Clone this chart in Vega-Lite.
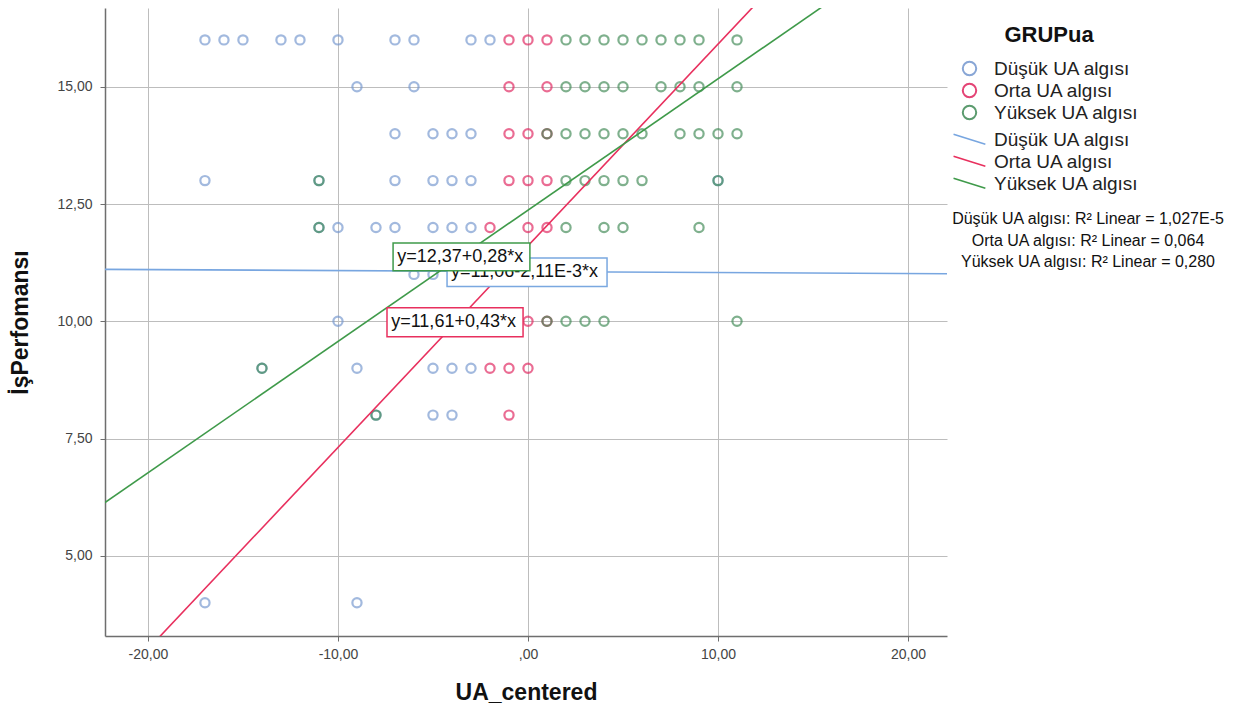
{
  "$schema": "https://vega.github.io/schema/vega-lite/v6.json",
  "width": 842,
  "height": 628,
  "autosize": {"type": "none"},
  "padding": {"left": 105, "top": 8, "right": 289, "bottom": 75},
  "background": "white",
  "config": {
    "font": "Liberation Sans",
    "view": {"stroke": null},
    "axis": {
      "gridColor": "#bdbdbd",
      "gridWidth": 1,
      "domainColor": "#6e6e6e",
      "domainWidth": 1.5,
      "tickColor": "#6e6e6e",
      "tickSize": 5,
      "labelFont": "Liberation Sans",
      "labelFontSize": 14,
      "labelColor": "#444444",
      "titleFont": "Liberation Sans",
      "titleFontSize": 23,
      "titleFontWeight": "bold",
      "titleColor": "#111111"
    }
  },
  "datasets": {
    "points": [
      {"x": -17, "y": 16, "group": "Düşük UA algısı"}, {"x": -16, "y": 16, "group": "Düşük UA algısı"}, {"x": -15, "y": 16, "group": "Düşük UA algısı"}, {"x": -13, "y": 16, "group": "Düşük UA algısı"}, {"x": -12, "y": 16, "group": "Düşük UA algısı"}, {"x": -10, "y": 16, "group": "Düşük UA algısı"}, {"x": -7, "y": 16, "group": "Düşük UA algısı"}, {"x": -6, "y": 16, "group": "Düşük UA algısı"}, {"x": -3, "y": 16, "group": "Düşük UA algısı"}, {"x": -2, "y": 16, "group": "Düşük UA algısı"},
      {"x": -1, "y": 16, "group": "Orta UA algısı"}, {"x": 0, "y": 16, "group": "Orta UA algısı"}, {"x": 1, "y": 16, "group": "Orta UA algısı"},
      {"x": 2, "y": 16, "group": "Yüksek UA algısı"}, {"x": 3, "y": 16, "group": "Yüksek UA algısı"}, {"x": 4, "y": 16, "group": "Yüksek UA algısı"}, {"x": 5, "y": 16, "group": "Yüksek UA algısı"}, {"x": 6, "y": 16, "group": "Yüksek UA algısı"}, {"x": 7, "y": 16, "group": "Yüksek UA algısı"}, {"x": 8, "y": 16, "group": "Yüksek UA algısı"}, {"x": 9, "y": 16, "group": "Yüksek UA algısı"}, {"x": 11, "y": 16, "group": "Yüksek UA algısı"},
      {"x": -9, "y": 15, "group": "Düşük UA algısı"}, {"x": -6, "y": 15, "group": "Düşük UA algısı"},
      {"x": -1, "y": 15, "group": "Orta UA algısı"}, {"x": 1, "y": 15, "group": "Orta UA algısı"},
      {"x": 2, "y": 15, "group": "Yüksek UA algısı"}, {"x": 3, "y": 15, "group": "Yüksek UA algısı"}, {"x": 4, "y": 15, "group": "Yüksek UA algısı"}, {"x": 5, "y": 15, "group": "Yüksek UA algısı"}, {"x": 7, "y": 15, "group": "Yüksek UA algısı"}, {"x": 8, "y": 15, "group": "Yüksek UA algısı"}, {"x": 9, "y": 15, "group": "Yüksek UA algısı"}, {"x": 11, "y": 15, "group": "Yüksek UA algısı"},
      {"x": -7, "y": 14, "group": "Düşük UA algısı"}, {"x": -5, "y": 14, "group": "Düşük UA algısı"}, {"x": -4, "y": 14, "group": "Düşük UA algısı"}, {"x": -3, "y": 14, "group": "Düşük UA algısı"},
      {"x": -1, "y": 14, "group": "Orta UA algısı"}, {"x": 0, "y": 14, "group": "Orta UA algısı"}, {"x": 1, "y": 14, "group": "Orta UA algısı"},
      {"x": 1, "y": 14, "group": "Yüksek UA algısı"}, {"x": 2, "y": 14, "group": "Yüksek UA algısı"}, {"x": 3, "y": 14, "group": "Yüksek UA algısı"}, {"x": 4, "y": 14, "group": "Yüksek UA algısı"}, {"x": 5, "y": 14, "group": "Yüksek UA algısı"}, {"x": 6, "y": 14, "group": "Yüksek UA algısı"}, {"x": 8, "y": 14, "group": "Yüksek UA algısı"}, {"x": 9, "y": 14, "group": "Yüksek UA algısı"}, {"x": 10, "y": 14, "group": "Yüksek UA algısı"}, {"x": 11, "y": 14, "group": "Yüksek UA algısı"},
      {"x": -17, "y": 13, "group": "Düşük UA algısı"}, {"x": -11, "y": 13, "group": "Düşük UA algısı"}, {"x": -7, "y": 13, "group": "Düşük UA algısı"}, {"x": -5, "y": 13, "group": "Düşük UA algısı"}, {"x": -4, "y": 13, "group": "Düşük UA algısı"}, {"x": -3, "y": 13, "group": "Düşük UA algısı"}, {"x": 10, "y": 13, "group": "Düşük UA algısı"},
      {"x": -1, "y": 13, "group": "Orta UA algısı"}, {"x": 0, "y": 13, "group": "Orta UA algısı"}, {"x": 1, "y": 13, "group": "Orta UA algısı"},
      {"x": -11, "y": 13, "group": "Yüksek UA algısı"}, {"x": 2, "y": 13, "group": "Yüksek UA algısı"}, {"x": 3, "y": 13, "group": "Yüksek UA algısı"}, {"x": 4, "y": 13, "group": "Yüksek UA algısı"}, {"x": 5, "y": 13, "group": "Yüksek UA algısı"}, {"x": 6, "y": 13, "group": "Yüksek UA algısı"}, {"x": 10, "y": 13, "group": "Yüksek UA algısı"},
      {"x": -11, "y": 12, "group": "Düşük UA algısı"}, {"x": -10, "y": 12, "group": "Düşük UA algısı"}, {"x": -8, "y": 12, "group": "Düşük UA algısı"}, {"x": -7, "y": 12, "group": "Düşük UA algısı"}, {"x": -5, "y": 12, "group": "Düşük UA algısı"}, {"x": -4, "y": 12, "group": "Düşük UA algısı"}, {"x": -3, "y": 12, "group": "Düşük UA algısı"},
      {"x": -2, "y": 12, "group": "Orta UA algısı"}, {"x": 0, "y": 12, "group": "Orta UA algısı"}, {"x": 1, "y": 12, "group": "Orta UA algısı"},
      {"x": -11, "y": 12, "group": "Yüksek UA algısı"}, {"x": 2, "y": 12, "group": "Yüksek UA algısı"}, {"x": 4, "y": 12, "group": "Yüksek UA algısı"}, {"x": 5, "y": 12, "group": "Yüksek UA algısı"}, {"x": 9, "y": 12, "group": "Yüksek UA algısı"},
      {"x": -6, "y": 11, "group": "Düşük UA algısı"}, {"x": -5, "y": 11, "group": "Düşük UA algısı"},
      {"x": -10, "y": 10, "group": "Düşük UA algısı"},
      {"x": 0, "y": 10, "group": "Orta UA algısı"}, {"x": 1, "y": 10, "group": "Orta UA algısı"},
      {"x": 1, "y": 10, "group": "Yüksek UA algısı"}, {"x": 2, "y": 10, "group": "Yüksek UA algısı"}, {"x": 3, "y": 10, "group": "Yüksek UA algısı"}, {"x": 4, "y": 10, "group": "Yüksek UA algısı"}, {"x": 11, "y": 10, "group": "Yüksek UA algısı"},
      {"x": -14, "y": 9, "group": "Düşük UA algısı"}, {"x": -9, "y": 9, "group": "Düşük UA algısı"}, {"x": -5, "y": 9, "group": "Düşük UA algısı"}, {"x": -4, "y": 9, "group": "Düşük UA algısı"}, {"x": -3, "y": 9, "group": "Düşük UA algısı"},
      {"x": -2, "y": 9, "group": "Orta UA algısı"}, {"x": -1, "y": 9, "group": "Orta UA algısı"}, {"x": 0, "y": 9, "group": "Orta UA algısı"},
      {"x": -14, "y": 9, "group": "Yüksek UA algısı"},
      {"x": -8, "y": 8, "group": "Düşük UA algısı"}, {"x": -5, "y": 8, "group": "Düşük UA algısı"}, {"x": -4, "y": 8, "group": "Düşük UA algısı"},
      {"x": -1, "y": 8, "group": "Orta UA algısı"},
      {"x": -8, "y": 8, "group": "Yüksek UA algısı"},
      {"x": -17, "y": 4, "group": "Düşük UA algısı"}, {"x": -9, "y": 4, "group": "Düşük UA algısı"}
    ],
    "lines": [
      {"group": "Düşük UA algısı", "r2": "Düşük UA algısı: R² Linear = 1,027E-5", "x": -25, "y": 11.113},
      {"group": "Düşük UA algısı", "r2": "Düşük UA algısı: R² Linear = 1,027E-5", "x": 25, "y": 11.007},
      {"group": "Orta UA algısı", "r2": "Orta UA algısı: R² Linear = 0,064", "x": -25, "y": 0.86},
      {"group": "Orta UA algısı", "r2": "Orta UA algısı: R² Linear = 0,064", "x": 25, "y": 22.36},
      {"group": "Yüksek UA algısı", "r2": "Yüksek UA algısı: R² Linear = 0,280", "x": -25, "y": 5.37},
      {"group": "Yüksek UA algısı", "r2": "Yüksek UA algısı: R² Linear = 0,280", "x": 25, "y": 19.37}
    ],
    "notes": [
      {"group": "Düşük UA algısı", "label": "y=11,06-2,11E-3*x", "x": -4.26, "x2": 4.16, "y": 10.74, "y2": 11.35, "tx": -4.05, "ty": 11.045},
      {"group": "Yüksek UA algısı", "label": "y=12,37+0,28*x", "x": -7.1, "x2": 0.1, "y": 11.08, "y2": 11.67, "tx": -6.88, "ty": 11.375},
      {"group": "Orta UA algısı", "label": "y=11,61+0,43*x", "x": -7.42, "x2": -0.26, "y": 9.67, "y2": 10.29, "tx": -7.2, "ty": 9.98}
    ]
  },
  "layer": [
    {
      "data": {"name": "points"},
      "mark": {"type": "point", "shape": "circle", "filled": false, "size": 85, "strokeWidth": 2.2, "strokeOpacity": 0.95},
      "encoding": {
        "x": {
          "field": "x", "type": "quantitative",
          "scale": {"domain": [-22.26, 22.05], "nice": false, "zero": false},
          "axis": {"values": [-20, -10, 0, 10, 20], "title": "UA_centered", "labelExpr": "datum.value == 0 ? ',00' : replace(replace(format(datum.value, '.2f'), '.', ','), '−', '-')", "labelPadding": 6, "titlePadding": 20}
        },
        "y": {
          "field": "y", "type": "quantitative",
          "scale": {"domain": [3.29, 16.68], "nice": false, "zero": false},
          "axis": {"values": [5, 7.5, 10, 12.5, 15], "title": "İşPerfomansı", "labelExpr": "replace(format(datum.value, '.2f'), '.', ',')", "labelPadding": 8, "titlePadding": 24}
        },
        "color": {
          "field": "group", "type": "nominal",
          "scale": {"domain": ["Düşük UA algısı", "Orta UA algısı", "Yüksek UA algısı"], "range": ["#7497cf", "#e0245e", "#3f8a55"]},
          "legend": {
            "title": "GRUPua", "orient": "none", "legendX": 855, "legendY": 17,
            "titleFontSize": 22, "titleFontWeight": "bold", "titleColor": "#111111", "titleAnchor": "middle", "titlePadding": 12,
            "labelFontSize": 19, "labelColor": "#222222", "labelOffset": 15, "labelLimit": 300,
            "symbolType": "circle", "symbolSize": 180, "symbolStrokeWidth": 2, "symbolFillColor": "transparent", "symbolOpacity": 0.85,
            "rowPadding": -1
          }
        }
      }
    },
    {
      "data": {"name": "lines"},
      "mark": {"type": "line", "strokeWidth": 1.6, "clip": true},
      "encoding": {
        "x": {"field": "x", "type": "quantitative"},
        "y": {"field": "y", "type": "quantitative"},
        "detail": {"field": "group"},
        "color": {
          "field": "group", "type": "nominal",
          "scale": {"domain": ["Düşük UA algısı", "Orta UA algısı", "Yüksek UA algısı"], "range": ["#78a6e0", "#e8305e", "#3f9a4a"]},
          "legend": {
            "title": null, "orient": "none", "legendX": 854, "legendY": 120,
            "labelFontSize": 19, "labelColor": "#222222", "labelOffset": 12, "labelLimit": 300,
            "symbolType": "M-1.6,-0.5L1.4,0.45", "symbolSize": 450, "symbolStrokeWidth": 1.6,
            "rowPadding": -0.5
          }
        },
        "opacity": {
          "field": "r2", "type": "nominal",
          "scale": {"domain": ["Düşük UA algısı: R² Linear = 1,027E-5", "Orta UA algısı: R² Linear = 0,064", "Yüksek UA algısı: R² Linear = 0,280"], "range": [1, 1, 1]},
          "legend": {
            "title": null, "orient": "none", "legendX": 843, "legendY": 203,
            "labelFontSize": 16, "labelColor": "#111111", "labelAlign": "center", "labelOffset": 124, "labelLimit": 500,
            "symbolSize": 0, "symbolOpacity": 0, "symbolStrokeWidth": 0,
            "rowPadding": 5.5
          }
        }
      }
    },
    {
      "data": {"name": "notes"},
      "transform": [{"filter": "datum.group == 'Düşük UA algısı'"}],
      "mark": {"type": "rect", "fill": "white", "stroke": "#7aa8e0", "strokeWidth": 1.5},
      "encoding": {"x": {"field": "x", "type": "quantitative"}, "x2": {"field": "x2"}, "y": {"field": "y", "type": "quantitative"}, "y2": {"field": "y2"}}
    },
    {
      "data": {"name": "notes"},
      "transform": [{"filter": "datum.group == 'Düşük UA algısı'"}],
      "mark": {"type": "text", "align": "left", "baseline": "middle", "fontSize": 18, "font": "Liberation Sans", "color": "#111111"},
      "encoding": {"x": {"field": "tx", "type": "quantitative"}, "y": {"field": "ty", "type": "quantitative"}, "text": {"field": "label"}}
    },
    {
      "data": {"name": "notes"},
      "transform": [{"filter": "datum.group == 'Yüksek UA algısı'"}],
      "mark": {"type": "rect", "fill": "white", "stroke": "#3f9a4a", "strokeWidth": 1.5},
      "encoding": {"x": {"field": "x", "type": "quantitative"}, "x2": {"field": "x2"}, "y": {"field": "y", "type": "quantitative"}, "y2": {"field": "y2"}}
    },
    {
      "data": {"name": "notes"},
      "transform": [{"filter": "datum.group == 'Yüksek UA algısı'"}],
      "mark": {"type": "text", "align": "left", "baseline": "middle", "fontSize": 18, "font": "Liberation Sans", "color": "#111111"},
      "encoding": {"x": {"field": "tx", "type": "quantitative"}, "y": {"field": "ty", "type": "quantitative"}, "text": {"field": "label"}}
    },
    {
      "data": {"name": "notes"},
      "transform": [{"filter": "datum.group == 'Orta UA algısı'"}],
      "mark": {"type": "rect", "fill": "white", "stroke": "#e8305e", "strokeWidth": 1.5},
      "encoding": {"x": {"field": "x", "type": "quantitative"}, "x2": {"field": "x2"}, "y": {"field": "y", "type": "quantitative"}, "y2": {"field": "y2"}}
    },
    {
      "data": {"name": "notes"},
      "transform": [{"filter": "datum.group == 'Orta UA algısı'"}],
      "mark": {"type": "text", "align": "left", "baseline": "middle", "fontSize": 18, "font": "Liberation Sans", "color": "#111111"},
      "encoding": {"x": {"field": "tx", "type": "quantitative"}, "y": {"field": "ty", "type": "quantitative"}, "text": {"field": "label"}}
    }
  ],
  "resolve": {"scale": {"color": "independent"}, "legend": {"color": "independent"}}
}
